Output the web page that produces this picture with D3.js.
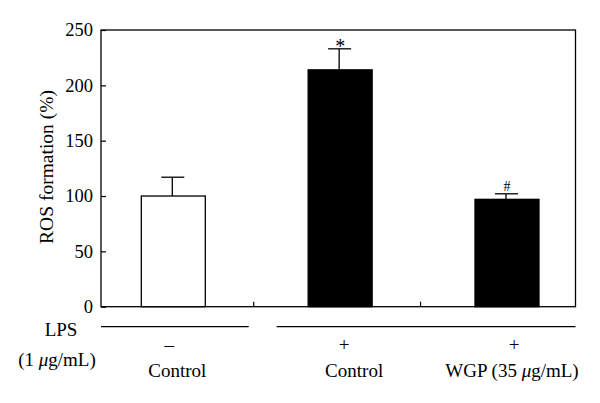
<!DOCTYPE html>
<html><head><meta charset="utf-8">
<script src="https://cdn.jsdelivr.net/npm/d3@7"></script>
<style>body{margin:0;background:#fff}text{font-family:"Liberation Serif","DejaVu Serif",serif;fill:#000}</style>
</head><body><svg id="c" width="600" height="403"></svg>
<script>
const categories = ["Control", "LPS Control", "LPS + WGP"];
const values = [100, 214, 97];
const errors = [17, 19, 5];
const fills = ["#fff", "#000", "#000"];
const marks = ["", "*", "#"];
const yTicks = [0, 50, 100, 150, 200, 250];
const lpsSigns = ["\u2013", "+", "+"];

const svg = d3.select("#c");
const L = 101, R = 575.5, T = 30, B = 306.7;
const FS = "19px";
const y = d3.scaleLinear().domain([0, 250]).range([B, T]);
const x = d3.scalePoint().domain(categories).range([173.3, 507]);
const bw = 64;

// frame
svg.append("rect").attr("x", L).attr("y", T).attr("width", R - L).attr("height", B - T)
  .attr("fill", "none").attr("stroke", "#000").attr("stroke-width", 1.3);

// y axis
const ax = svg.append("g").attr("transform", `translate(${L},0)`)
  .call(d3.axisLeft(y).tickValues(yTicks).tickSize(-5).tickPadding(8));
ax.select(".domain").remove();
ax.selectAll("line").attr("stroke", "#000").attr("stroke-width", 1.2);
ax.selectAll("text").style("font-size", "18.5px").attr("font-family", "Liberation Serif");

svg.append("text").attr("transform", `translate(53,167) rotate(-90)`)
  .attr("text-anchor", "middle").style("font-size", "19.5px").text("ROS formation (%)");

// separator ticks on bottom axis
const cats = categories;
for (let i = 0; i < cats.length - 1; i++) {
  const mx = (x(cats[i]) + x(cats[i + 1])) / 2 - 3;
  svg.append("line").attr("x1", mx).attr("x2", mx).attr("y1", B).attr("y2", B - 5)
    .attr("stroke", "#000").attr("stroke-width", 1.2);
}

// bars
const g = svg.append("g");
categories.forEach((c, i) => {
  const cx = x(c);
  g.append("rect").attr("x", cx - bw / 2).attr("y", y(values[i])).attr("width", bw)
    .attr("height", B - y(values[i])).attr("fill", fills[i]).attr("stroke", "#000").attr("stroke-width", 1.3);
  const top = y(values[i] + errors[i]);
  g.append("line").attr("x1", cx - 1).attr("x2", cx - 1).attr("y1", y(values[i])).attr("y2", top)
    .attr("stroke", "#000").attr("stroke-width", 1.3);
  g.append("line").attr("x1", cx - 12).attr("x2", cx + 11).attr("y1", top).attr("y2", top)
    .attr("stroke", "#000").attr("stroke-width", 1.3);
  if (marks[i]) g.append("text").attr("x", cx).attr("y", top - (marks[i] === "*" ? -4 : 3))
    .attr("text-anchor", "middle").style("font-size", marks[i] === "*" ? "20px" : "14px").text(marks[i]);
});

// LPS lines
svg.append("line").attr("x1", L).attr("x2", 248.7).attr("y1", 326.7).attr("y2", 326.7).attr("stroke", "#000").attr("stroke-width", 1.2);
svg.append("line").attr("x1", 276.7).attr("x2", R).attr("y1", 326.7).attr("y2", 326.7).attr("stroke", "#000").attr("stroke-width", 1.2);

svg.append("text").attr("x", 61).attr("y", 336).attr("text-anchor", "middle").style("font-size", FS).text("LPS");
const t2 = svg.append("text").attr("x", 57).attr("y", 366).attr("text-anchor", "middle").style("font-size", FS);
t2.append("tspan").text("(1 ");
t2.append("tspan").attr("font-style", "italic").text("\u03bc");
t2.append("tspan").text("g/mL)");

const signX = [-4, 4, 7];
categories.forEach((c, i) => {
  svg.append("text").attr("x", x(c) + signX[i]).attr("y", 351).attr("text-anchor", "middle")
    .style("font-size", FS).text(lpsSigns[i]);
});
const labX = [4, 14, 5];
svg.append("text").attr("x", x(cats[0]) + labX[0]).attr("y", 377).attr("text-anchor", "middle").style("font-size", FS).text("Control");
svg.append("text").attr("x", x(cats[1]) + labX[1]).attr("y", 377).attr("text-anchor", "middle").style("font-size", FS).text("Control");
const t3 = svg.append("text").attr("x", x(cats[2]) + labX[2]).attr("y", 377).attr("text-anchor", "middle").style("font-size", FS);
t3.append("tspan").text("WGP (35 ");
t3.append("tspan").attr("font-style", "italic").text("\u03bc");
t3.append("tspan").text("g/mL)");
</script></body></html>
